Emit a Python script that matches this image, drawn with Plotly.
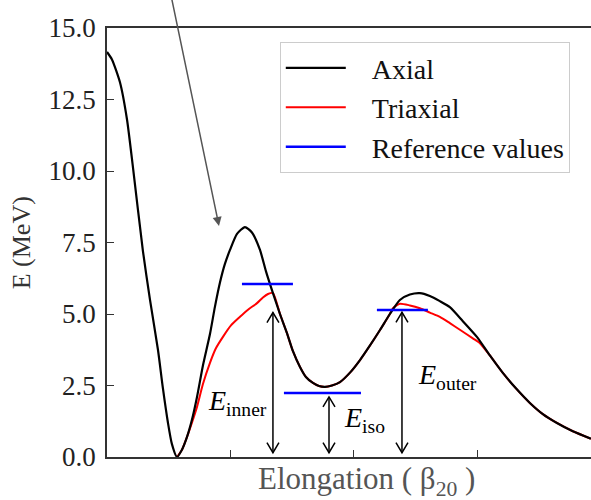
import plotly.graph_objects as go

# ---------------- data ----------------
axial_x = [0.000, 0.040, 0.105, 0.162, 0.211, 0.291, 0.348, 0.413, 0.453, 0.494, 0.526, 0.567,
           0.607, 0.648, 0.688, 0.729, 0.777, 0.834, 0.874, 0.915, 0.955, 0.996, 1.053, 1.117,
           1.174, 1.239, 1.287, 1.344, 1.401, 1.457, 1.506, 1.563, 1.611, 1.668, 1.717, 1.765,
           1.822, 1.887, 1.968, 2.049, 2.130, 2.211, 2.291, 2.372, 2.453, 2.534, 2.615, 2.696,
           2.777, 2.882, 2.996, 3.101, 3.206, 3.312, 3.425, 3.530, 3.644, 3.773, 3.919]
axial_e = [14.16, 13.90, 13.10, 11.80, 10.10, 7.20, 5.50, 3.74, 2.40, 1.19, 0.45, 0.00,
           0.25, 0.70, 1.30, 2.10, 3.20, 4.30, 5.25, 6.10, 6.75, 7.24, 7.80, 8.04,
           7.85, 7.24, 6.50, 5.73, 5.00, 4.34, 3.70, 3.15, 2.80, 2.59, 2.48, 2.45,
           2.50, 2.62, 2.95, 3.39, 3.90, 4.44, 5.00, 5.49, 5.68, 5.73, 5.63, 5.45,
           5.24, 4.75, 4.20, 3.55, 2.94, 2.40, 1.89, 1.50, 1.19, 0.90, 0.64]

triax_x = [0.567, 0.607, 0.648, 0.688, 0.729, 0.777, 0.834, 0.882, 0.939, 1.004, 1.077, 1.142,
           1.215, 1.263, 1.304, 1.344, 1.401, 1.457, 1.506, 1.563, 1.611, 1.668, 1.717, 1.765,
           1.822, 1.887, 1.968, 2.049, 2.130, 2.211, 2.291, 2.316, 2.372, 2.453, 2.534, 2.615,
           2.696, 2.777, 2.858, 2.963, 3.020, 3.101, 3.206, 3.312, 3.425, 3.530, 3.644, 3.773, 3.919]
triax_e = [0.00, 0.25, 0.70, 1.20, 1.75, 2.55, 3.29, 3.80, 4.20, 4.60, 4.90, 5.15,
           5.38, 5.58, 5.70, 5.73, 5.00, 4.34, 3.70, 3.15, 2.80, 2.59, 2.48, 2.45,
           2.50, 2.62, 2.95, 3.39, 3.90, 4.44, 5.00, 5.20, 5.36, 5.30, 5.20, 5.05,
           4.90, 4.68, 4.45, 4.15, 3.98, 3.55, 2.94, 2.40, 1.89, 1.50, 1.19, 0.90, 0.64]

ref_names = ["inner", "iso", "outer"]
ref_x0 = [1.093, 1.433, 2.186]
ref_x1 = [1.506, 2.057, 2.599]
ref_e = [6.05, 2.24, 5.14]

arrow_x = [1.344, 1.798, 2.389]
arrow_lo = [0.15, 0.15, 0.15]
arrow_hi = [5.05, 2.10, 5.06]

label_x = [0.80, 1.90, 2.50]
label_y = [1.90, 1.30, 2.83]

y_ticks = [0.0, 2.5, 5.0, 7.5, 10.0, 12.5, 15.0]
x_ticks = [1, 2, 3]

pointer_tip = (0.907, 8.08)
pointer_tail = (0.518, 16.15)

legend_names = ["Axial", "Triaxial", "Reference values"]

# ---------------- figure ----------------
SERIF = "Liberation Serif"
PAD = "\u00a0\u00a0\u00a0"
fig = go.Figure()

fig.add_trace(go.Scatter(x=triax_x, y=triax_e, mode="lines", name=PAD + legend_names[1],
                         line=dict(color="#ff0000", width=2, shape="spline", smoothing=0.6),
                         legendrank=2))
fig.add_trace(go.Scatter(x=axial_x, y=axial_e, mode="lines", name=PAD + legend_names[0],
                         line=dict(color="#000000", width=2.2, shape="spline", smoothing=0.6),
                         legendrank=1))

for i in range(len(ref_e)):
    fig.add_trace(go.Scatter(x=[ref_x0[i], ref_x1[i]], y=[ref_e[i], ref_e[i]], mode="lines",
                             name=PAD + legend_names[2], line=dict(color="#0000ff", width=2.5),
                             legendgroup="ref", legendrank=3, showlegend=(i == 0)))

# double headed open arrows (head size in pixel -> data units)
hx = 6 / 123.5
hy = 10 / 28.6
for i in range(len(arrow_x)):
    x0 = arrow_x[i]
    lo, hi = arrow_lo[i], arrow_hi[i]
    xs = [x0, x0, None, x0 - hx, x0, x0 + hx, None, x0 - hx, x0, x0 + hx]
    ys = [lo, hi, None, hi - hy, hi, hi - hy, None, lo + hy, lo, lo + hy]
    fig.add_trace(go.Scatter(x=xs, y=ys, mode="lines", showlegend=False, hoverinfo="skip",
                             line=dict(color="#000000", width=1.5)))

for i in range(len(ref_names)):
    fig.add_annotation(x=label_x[i], y=label_y[i], xref="x", yref="y", showarrow=False,
                       xanchor="left", yanchor="middle",
                       text="<i>E</i><sub>%s</sub>" % ref_names[i],
                       font=dict(family=SERIF, size=28, color="#000000"))

fig.add_annotation(x=pointer_tip[0], y=pointer_tip[1], ax=pointer_tail[0], ay=pointer_tail[1],
                   xref="x", yref="y", axref="x", ayref="y", text="", showarrow=True,
                   arrowhead=2, arrowsize=1.2, arrowwidth=1.5, arrowcolor="#555555", standoff=0)

fig.add_annotation(x=0.537, y=-0.055, xref="paper", yref="paper", showarrow=False,
                   xanchor="center", yanchor="middle",
                   text="Elongation ( β<sub>20</sub> )",
                   font=dict(family=SERIF, size=31, color="#555555"))

fig.add_annotation(x=-0.176, y=0.5, xref="paper", yref="paper", showarrow=False,
                   xanchor="center", yanchor="middle", textangle=-90,
                   text="E (MeV)", font=dict(family=SERIF, size=26, color="#333333"))

fig.update_layout(
    width=591, height=500,
    margin=dict(l=107, r=0, t=28, b=43),
    paper_bgcolor="white", plot_bgcolor="white",
    showlegend=True,
    legend=dict(x=0.357, y=0.967, xanchor="left", yanchor="top",
                bgcolor="white", bordercolor="#cccccc", borderwidth=1,
                font=dict(family=SERIF, size=28, color="#111111"),
                tracegroupgap=0, itemwidth=60),
)
fig.update_xaxes(range=[0, 3.92], showgrid=False, zeroline=False,
                 showline=True, linecolor="#333333", linewidth=1.5, mirror=True,
                 ticks="inside", ticklen=7, tickwidth=1.2, tickcolor="#333333",
                 tickvals=x_ticks, showticklabels=False)
fig.update_yaxes(range=[0, 15], showgrid=False, zeroline=False,
                 showline=True, linecolor="#333333", linewidth=1.5,
                 ticks="inside", ticklen=7, tickwidth=1.2, tickcolor="#333333",
                 tickvals=y_ticks, ticktext=["%.1f" % v for v in y_ticks],
                 tickfont=dict(family=SERIF, size=27, color="#222222"),
                 ticklabelstandoff=4)

fig.write_html("out.html")
